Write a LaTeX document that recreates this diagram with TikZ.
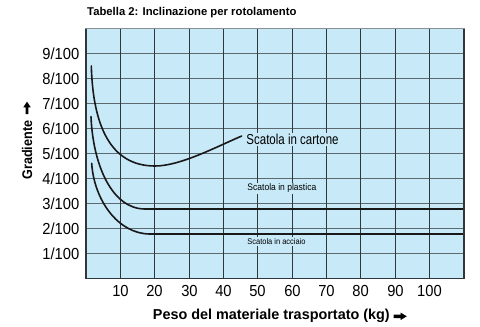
\documentclass[tikz,border=0pt]{standalone}
\usepackage{fontspec}
\setmainfont{Liberation Sans}
\newfontfamily\fnarrow[FakeStretch=0.8]{Liberation Sans}
\newfontfamily\fmid[FakeStretch=0.9]{Liberation Sans}
\newfontfamily\ftick[FakeStretch=0.92]{Liberation Sans}
\definecolor{plotbg}{HTML}{C8E9F8}
\definecolor{hgrid}{HTML}{5C6A70}
\definecolor{vgrid}{HTML}{30363A}
\definecolor{topline}{HTML}{8A9094}
\tikzset{
  hline/.style={hgrid,line width=1.3pt},
  vline/.style={vgrid,line width=1.3pt},
  curve/.style={black!90,line width=1.6pt,line cap=round},
  ytick/.style={anchor=east,inner sep=0pt,font=\ftick\fontsize{16}{16}\selectfont},
  xtick/.style={anchor=center,inner sep=0pt,font=\ftick\fontsize{16}{16}\selectfont},
  boxlabel/.style={anchor=west,fill=plotbg,inner sep=1.2pt},
}
\begin{document}
\begin{tikzpicture}[x=1pt,y=-1pt]
\useasboundingbox (0,0) rectangle (480,327);
% plot area
\fill[plotbg] (86,28.5) rectangle (464,278.5);
% horizontal grid + y ticks
\foreach \i in {1,...,9}{
  \pgfmathsetmacro{\yy}{278.5-25*\i}
  \draw[hline] (86,\yy) -- (464,\yy);
  \node[ytick] (yt\i) at (79.5,\yy) {\i/100};
}
% vertical grid + x ticks
\foreach \i/\xx in {1/120.5,2/154.5,3/189.5,4/223.5,5/257.5,6/292.5,7/326.5,8/360.5,9/395.5,10/429.5}{
  \draw[vline] (\xx,28.5) -- (\xx,278.5);
  \node[xtick] (xt\i) at (\xx,290.7) {\the\numexpr\i*10\relax};
}
% curves
\draw[curve] (91.3,66) .. controls (93,125) and (110,166) .. (155,166)
             .. controls (180,166) and (215,147.5) .. (241.7,136) coordinate (cend);
\draw[curve] (91,116.7) .. controls (93,165) and (112,209) .. (145,209) -- (464,209);
\draw[curve] (91.7,163.3) .. controls (94,200) and (118,234) .. (150,234) -- (464,234);
% labels
\node[boxlabel,font=\fnarrow\fontsize{14.4}{14.4}\selectfont] (lcart) at (245,139.5) {Scatola in cartone};
\node[boxlabel,font=\fmid\fontsize{9.5}{9.5}\selectfont] (lplas) at (246,188.5) {Scatola in plastica};
\node[boxlabel,font=\fmid\fontsize{8.3}{8.3}\selectfont,inner ysep=1.5pt] (lacc) at (246,241.5) {Scatola in acciaio};
% border
\draw[vgrid,line width=1.3pt] (86,28.5) -- (86,278.5) -- (464,278.5) -- (464,28.5);
\draw[topline,line width=1.3pt] (85.35,28.5) -- (464.65,28.5);
% title
\node[anchor=west,inner sep=0pt,font=\bfseries\fontsize{11.3}{11.3}\selectfont] (title) at (87,12.7) {Tabella 2: Inclinazione per rotolamento};
% y axis label
\node[rotate=90,inner sep=0pt,font=\fmid\bfseries\fontsize{14}{14}\selectfont] (ylab) at (27,150) {Gradiente};
\fill (25.6,114) -- (25.6,107.3) -- (23.3,107.3) -- (27,101.7) -- (30.7,107.3) -- (28.4,107.3) -- (28.4,114) -- cycle;
% x axis label
\node[anchor=west,inner sep=0pt,font=\bfseries\fontsize{14.4}{14.4}\selectfont] (xlab) at (152.7,316) {Peso del materiale trasportato (kg)};
\fill (393.5,314.5) -- (400.5,314.5) -- (400.5,312.5) -- (406.8,316.3) -- (400.5,320.1) -- (400.5,318.1) -- (393.5,318.1) -- cycle;
\end{tikzpicture}
\end{document}
